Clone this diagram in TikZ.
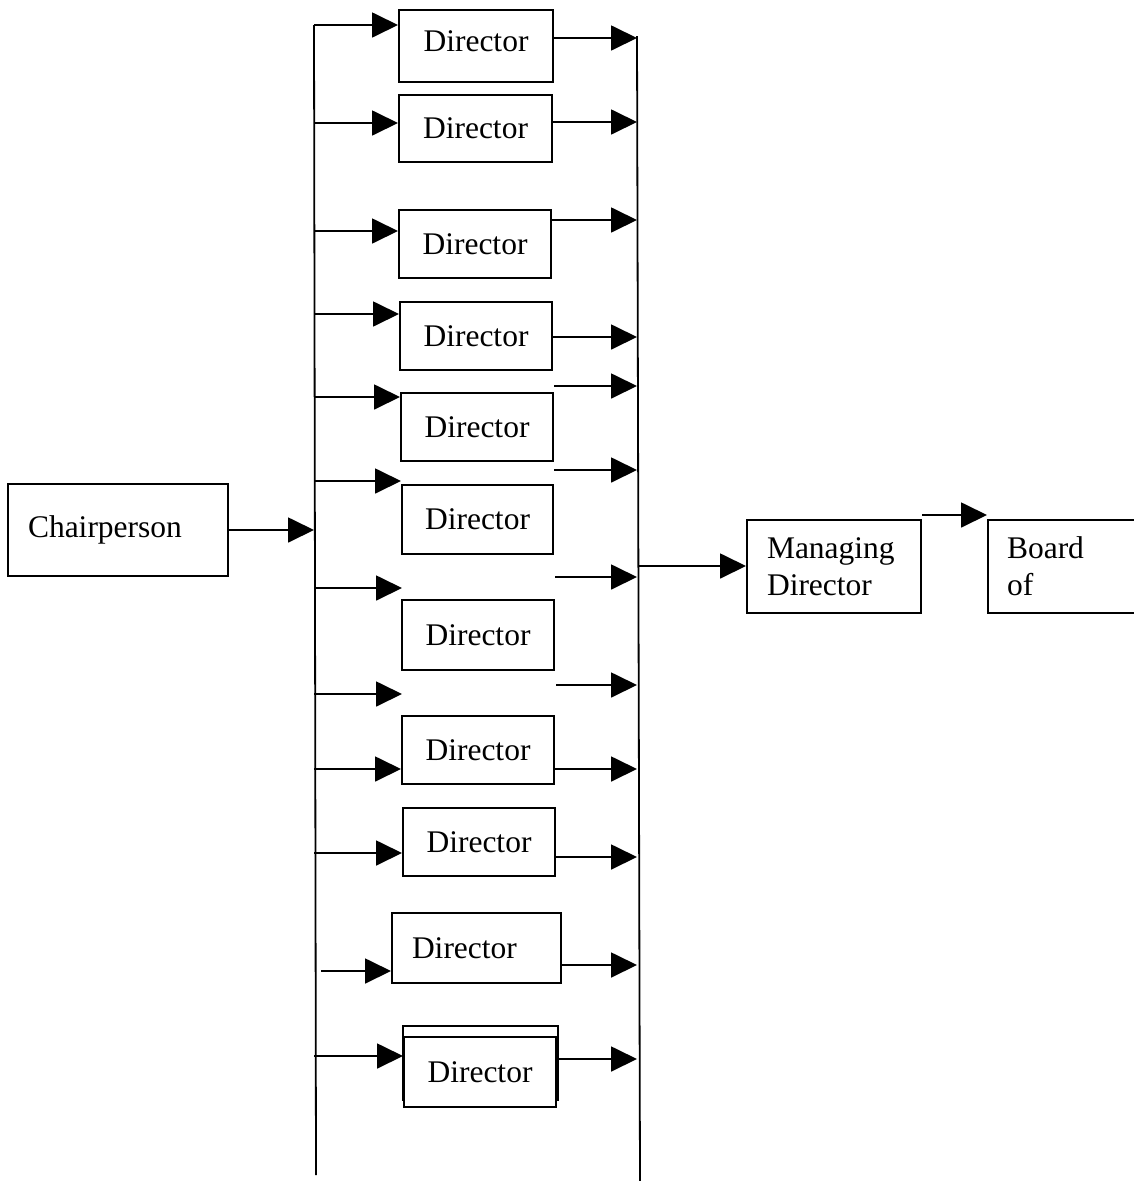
\documentclass[tikz,border=0pt]{standalone}
\usepackage{fontspec}
\setmainfont{Liberation Serif}
\usetikzlibrary{arrows.meta}
\begin{document}
\begin{tikzpicture}[x=1pt,y=-1pt,
  line width=1.8pt,
  box/.style={draw, line width=2pt, inner sep=0pt, font=\fontsize{31.5}{37}\selectfont},
  dirbox/.style={box, minimum width=152pt, minimum height=68pt},
  arr/.style={-{Triangle[length=26pt,width=25pt]}, line width=1.8pt},
  bus/.style={line width=1.8pt}]
\useasboundingbox (0,0) rectangle (1134,1181);

% buses
\coordinate (Ltop) at (314,25);
\coordinate (Lbot) at (316,1175);
\coordinate (Rtop) at (637,36);
\coordinate (Rbot) at (640,1181);
\draw[bus] (Ltop) -- (Lbot);
\draw[bus] (Rtop) -- (Rbot);

% boxes
\node[box, inner xsep=20pt, text width=180pt, align=left, minimum height=92pt] (chair) at (118,530) {Chairperson};
\node[dirbox, minimum width=154pt, minimum height=72pt, text depth=10pt] (d1) at (476,46) {Director};
\node[dirbox, minimum width=153pt, minimum height=67pt] (d2) at (475.5,128.5) {Director};
\node[dirbox] (d3) at (475,244) {Director};
\node[dirbox] (d4) at (476,336) {Director};
\node[dirbox] (d5) at (477,427) {Director};
\node[dirbox, minimum width=151pt, minimum height=69pt] (d6) at (477.5,519.5) {Director};
\node[dirbox, minimum height=70pt] (d7) at (478,635) {Director};
\node[dirbox] (d8) at (478,750) {Director};
\node[dirbox] (d9) at (479,842) {Director};
\node[box, inner xsep=20pt, text width=129pt, align=left, minimum height=70pt] (d10) at (476.5,948) {Director};
\draw[line width=1.6pt] (403,1026) rectangle (558,1100);
\node[dirbox, minimum height=70pt, fill=white] (d11) at (480,1072) {Director};
\node[box, inner xsep=20pt, text width=134pt, align=left, minimum height=93pt] (md) at (834,566.5) {Managing\\Director};
\node[box, inner xsep=19pt, text width=150pt, align=left, minimum height=93pt, anchor=west] (board) at (987,566.5) {Board\\of};

% chairperson to bus
\draw[arr] (chair.east) -- (chair.east -| Ltop);

% inputs from left bus
\foreach \n/\y in {d1/25, d2/123, d3/231, d4/314, d5/397, d6/481, d8/769, d9/853, d11/1056} {
  \coordinate (b\n) at (Ltop |- 0,\y);
  \draw[arr] (b\n) -- (b\n -| \n.west);
}
\coordinate (bd10) at (321,971);
\draw[arr] (bd10) -- (bd10 -| d10.west);
% floating inputs
\coordinate (fa) at (Ltop |- 0,588);
\coordinate (fat) at (402,588);
\draw[arr] (fa) -- (fat);
\coordinate (fb) at (Ltop |- 0,694);
\coordinate (fbt) at (402,694);
\draw[arr] (fb) -- (fbt);

% outputs to right bus
\foreach \n/\y in {d1/38, d2/122, d3/220, d4/337, d8/769, d9/857, d10/965, d11/1059} {
  \coordinate (o\n) at (\n.east |- 0,\y);
  \draw[arr] (o\n) -- (o\n -| Rtop);
}
% floating outputs
\foreach \k/\x/\y in {a/554/386, b/554/470, c/555/577, d/556/685} {
  \coordinate (g\k) at (\x,\y);
  \draw[arr] (g\k) -- (g\k -| Rtop);
}

% bus to managing director
\coordinate (j) at (638,566);
\draw[arr] (j) -- (j -| md.west);
% managing director to board
\draw[arr] ([yshift=4pt]md.north east) -- ([yshift=4pt]board.north west);
\end{tikzpicture}
\end{document}
